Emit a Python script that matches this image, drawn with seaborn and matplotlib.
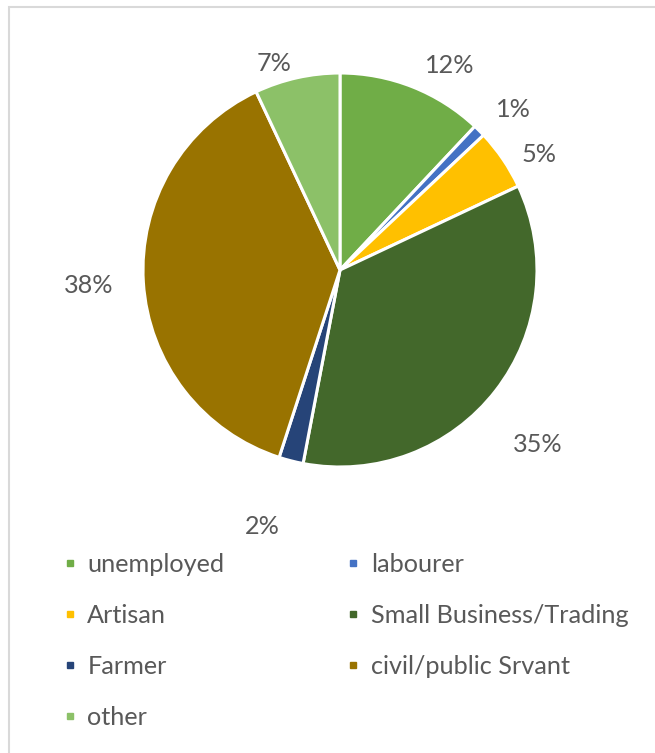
import matplotlib
matplotlib.use("Agg")
import matplotlib.pyplot as plt
import seaborn as sns
import numpy as np
from matplotlib.lines import Line2D
from matplotlib.patches import Rectangle

sns.set_theme(style="white")
plt.rcParams['font.family'] = ['Lato', 'DejaVu Sans']

categories = ["unemployed", "labourer", "Artisan", "Small Business/Trading",
              "Farmer", "civil/public Srvant", "other"]
values = [12, 1, 5, 35, 2, 38, 7]
colors = ["#70AD47", "#4472C4", "#FFC000", "#43682B", "#264478", "#997300", "#8CC168"]
# label placement (style): radius factor and angular nudge (deg, clockwise)
label_radius = [1.18, 1.20, 1.17, 1.34, 1.36, 1.28, 1.10]
label_nudge = [6.6, 2.2, 4.1, 3.7, 2.5, 0.0, -5.2]

TXT = "#595959"
FS = 18.2

fig = plt.figure(figsize=(6.55, 7.53), dpi=100)
fig.patch.set_facecolor("white")

R = 197
cx, cy = 340, 270
W, H = 655, 753
half = 1.5 * R
ax = fig.add_axes([(cx - half) / W, (H - cy - half) / H, 2 * half / W, 2 * half / H])

wedges, _ = ax.pie(values, colors=colors, startangle=90, counterclock=False,
                   wedgeprops=dict(edgecolor="white", linewidth=2.2))
ax.set_xlim(-1.5, 1.5)
ax.set_ylim(-1.5, 1.5)
ax.set_aspect("equal")
ax.axis("off")

for w, v, r, n in zip(wedges, values, label_radius, label_nudge):
    th = np.deg2rad((w.theta1 + w.theta2) / 2 - n)
    ax.text(r * np.cos(th), r * np.sin(th), f"{v}%", ha="center", va="center",
            fontsize=FS, color=TXT)

order = [0, 2, 4, 6, 1, 3, 5]
handles = [Line2D([], [], marker="s", linestyle="none", markersize=5,
                  markerfacecolor=colors[i], markeredgecolor=colors[i]) for i in order]
labels = [categories[i] for i in order]
leg = fig.legend(handles, labels, ncol=2, loc="upper left",
                 bbox_to_anchor=(52 / W, 1 - 543 / H), frameon=False,
                 fontsize=FS, handlelength=0.6, handletextpad=0.4,
                 labelspacing=1.11, columnspacing=4.8, labelcolor=TXT,
                 borderaxespad=0)

fig.patches.append(Rectangle((9 / W, -0.05), 1.2, 1 - 7 / H + 0.05,
                             transform=fig.transFigure, fill=False,
                             edgecolor="#d9d9d9", linewidth=1.5))

fig.savefig("out.png", dpi=100)
